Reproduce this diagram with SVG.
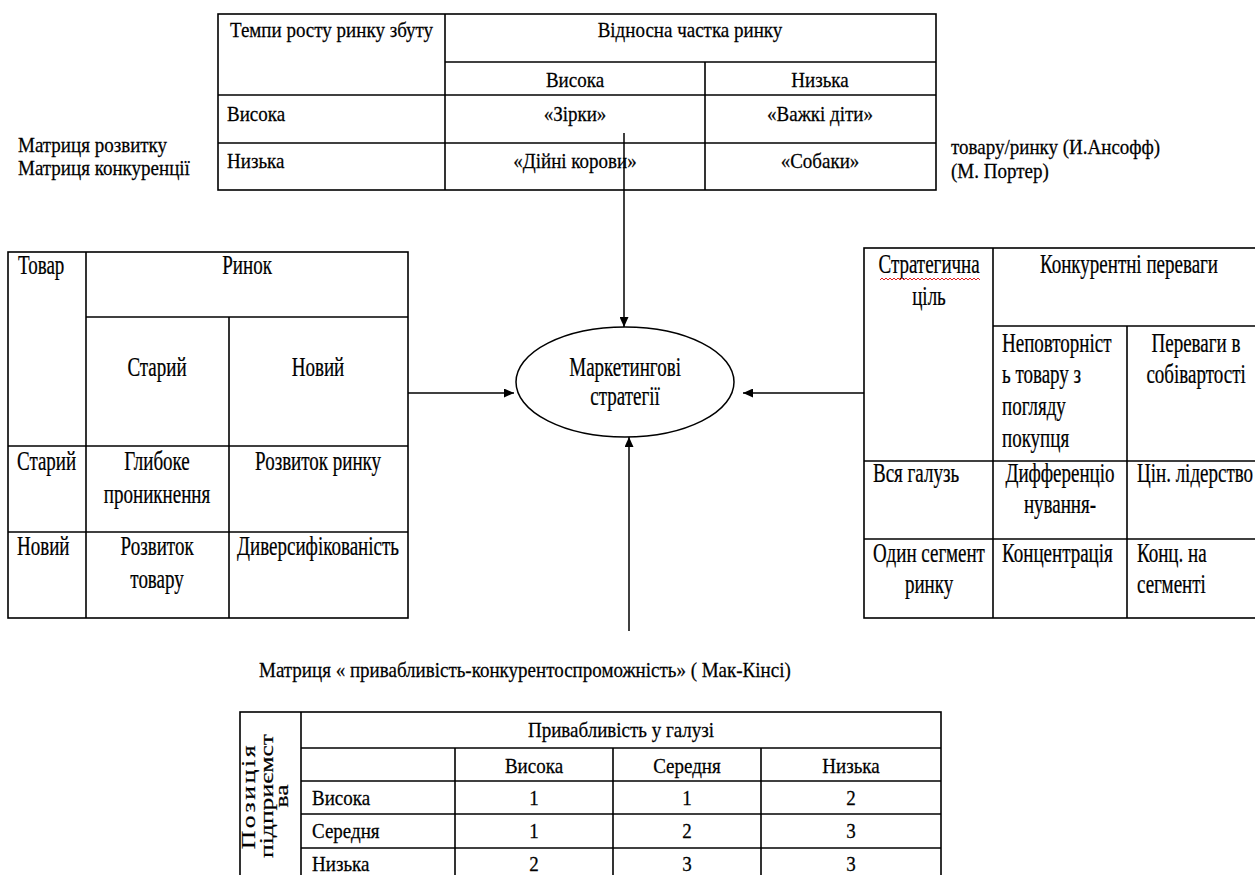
<svg xmlns="http://www.w3.org/2000/svg" width="1255" height="875" viewBox="0 0 1255 875">
<style>
.b{fill:none;stroke:#000;stroke-width:1.6}
.c{fill:none;stroke:#000;stroke-width:1.5}
.t{font-family:"Liberation Serif","Times New Roman",serif;fill:#000;stroke:#000;stroke-width:0.25;transform-box:fill-box}
.tl{font-size:27px;transform:scaleX(0.704)}
.nm{font-size:21px;transform:scaleX(0.905)}
.st{transform-origin:left center}
.md{text-anchor:middle;transform-origin:center}
.rot{font-family:"Liberation Serif","Times New Roman",serif;font-size:19px;fill:#000;stroke:#000;stroke-width:0.2;text-anchor:middle}
.wavy{fill:none;stroke:#e02020;stroke-width:1}
</style>
<defs>
<marker id="ah" viewBox="0 0 10 9" refX="10" refY="4.5" markerWidth="10" markerHeight="9" markerUnits="userSpaceOnUse" orient="auto"><path d="M0,0 L10,4.5 L0,9 z" fill="#000"/></marker>
</defs>
<rect width="1255" height="875" fill="#fff"/>

<g id="bcg-matrix">
<rect class="b" x="218" y="14" width="718" height="176"/>
<line class="b" x1="445" y1="14" x2="445" y2="190"/>
<line class="b" x1="705" y1="62" x2="705" y2="190"/>
<line class="b" x1="445" y1="62" x2="936" y2="62"/>
<line class="b" x1="218" y1="95" x2="936" y2="95"/>
<line class="b" x1="218" y1="143" x2="936" y2="143"/>
<text class="t nm st" x="230" y="37">Темпи росту ринку збуту</text>
<text class="t nm md" x="690" y="37">Відносна частка ринку</text>
<text class="t nm md" x="575" y="87">Висока</text>
<text class="t nm md" x="820" y="87">Низька</text>
<text class="t nm st" x="227" y="121">Висока</text>
<text class="t nm md" x="575" y="121">«Зірки»</text>
<text class="t nm md" x="820" y="121">«Важкі діти»</text>
<text class="t nm st" x="227" y="168">Низька</text>
<text class="t nm md" x="575" y="168">«Дійні корови»</text>
<text class="t nm md" x="820" y="168">«Собаки»</text>
</g>

<g id="labels-left">
<text class="t nm st" x="18" y="152">Матриця розвитку</text>
<text class="t nm st" x="18" y="175">Матриця конкуренції</text>
</g>
<g id="labels-right">
<text class="t nm st" x="951" y="154">товару/ринку (И.Ансофф)</text>
<text class="t nm st" x="951" y="178">(М. Портер)</text>
</g>

<g id="ansoff-matrix">
<rect class="b" x="8" y="252" width="400" height="366"/>
<line class="b" x1="86" y1="252" x2="86" y2="618"/>
<line class="b" x1="229" y1="317" x2="229" y2="618"/>
<line class="b" x1="86" y1="317" x2="408" y2="317"/>
<line class="b" x1="8" y1="446" x2="408" y2="446"/>
<line class="b" x1="8" y1="532" x2="408" y2="532"/>
<text class="t tl st" x="18" y="274">Товар</text>
<text class="t tl md" x="247" y="274">Ринок</text>
<text class="t tl md" x="157" y="376">Старий</text>
<text class="t tl md" x="318" y="376">Новий</text>
<text class="t tl st" x="17" y="470">Старий</text>
<text class="t tl md" x="157" y="470">Глибоке</text>
<text class="t tl md" x="157" y="503">проникнення</text>
<text class="t tl md" x="318" y="470">Розвиток ринку</text>
<text class="t tl st" x="17" y="555">Новий</text>
<text class="t tl md" x="157" y="555">Розвиток</text>
<text class="t tl md" x="157" y="588">товару</text>
<text class="t tl md" x="318" y="555">Диверсифікованість</text>
</g>

<g id="porter-matrix">
<rect class="b" x="864" y="248" width="402" height="370"/>
<line class="b" x1="993" y1="248" x2="993" y2="618"/>
<line class="b" x1="1127" y1="326" x2="1127" y2="618"/>
<line class="b" x1="993" y1="326" x2="1266" y2="326"/>
<line class="b" x1="864" y1="461" x2="1266" y2="461"/>
<line class="b" x1="864" y1="539" x2="1266" y2="539"/>
<text class="t tl md" x="929" y="273">Стратегична</text>
<path class="wavy" d="M880,280 l2,-2 2,2 2,-2 2,2 2,-2 2,2 2,-2 2,2 2,-2 2,2 2,-2 2,2 2,-2 2,2 2,-2 2,2 2,-2 2,2 2,-2 2,2 2,-2 2,2 2,-2 2,2 2,-2 2,2 2,-2 2,2 2,-2 2,2 2,-2 2,2 2,-2 2,2 2,-2 2,2 2,-2 2,2 2,-2 2,2 2,-2 2,2 2,-2 2,2 2,-2 2,2 2,-2 2,2 2,-2 2,2"/>
<text class="t tl md" x="929" y="305">ціль</text>
<text class="t tl md" x="1129" y="273">Конкурентні переваги</text>
<text class="t tl st" x="1002" y="352">Неповторніст</text>
<text class="t tl st" x="1002" y="383">ь товару з</text>
<text class="t tl st" x="1002" y="415">погляду</text>
<text class="t tl st" x="1002" y="447">покупця</text>
<text class="t tl md" x="1196" y="352">Переваги в</text>
<text class="t tl md" x="1196" y="383">собівартості</text>
<text class="t tl st" x="873" y="482">Вся галузь</text>
<text class="t tl md" x="1060" y="482">Дифференціо</text>
<text class="t tl md" x="1060" y="513">нування-</text>
<text class="t tl st" x="1137" y="482">Цін. лідерство</text>
<text class="t tl md" x="929" y="562">Один сегмент</text>
<text class="t tl md" x="929" y="593">ринку</text>
<text class="t tl st" x="1002" y="562">Концентрація</text>
<text class="t tl st" x="1137" y="562">Конц. на</text>
<text class="t tl st" x="1137" y="593">сегменті</text>
</g>

<g id="strategies">
<ellipse class="c" cx="625" cy="382" rx="109" ry="55" fill="#fff"/>
<text class="t tl md" x="625" y="376">Маркетингові</text>
<text class="t tl md" x="625" y="405">стратегії</text>
</g>

<g id="mckinsey-title">
<text class="t nm st" x="259" y="677">Матриця « привабливість-конкурентоспроможність» ( Мак-Кінсі)</text>
</g>

<g id="mckinsey-matrix">
<rect class="b" x="240" y="712" width="701" height="169"/>
<line class="b" x1="301" y1="712" x2="301" y2="881"/>
<line class="b" x1="455" y1="748" x2="455" y2="881"/>
<line class="b" x1="613" y1="748" x2="613" y2="881"/>
<line class="b" x1="761" y1="748" x2="761" y2="881"/>
<line class="b" x1="301" y1="748" x2="941" y2="748"/>
<line class="b" x1="301" y1="781" x2="941" y2="781"/>
<line class="b" x1="301" y1="814" x2="941" y2="814"/>
<line class="b" x1="301" y1="848" x2="941" y2="848"/>
<text class="rot" transform="translate(255,796) rotate(-90) scale(1.35,1)" letter-spacing="2">Позиція</text>
<text class="rot" transform="translate(273,796) rotate(-90) scale(1.35,1)">підприємст</text>
<text class="rot" transform="translate(288,796) rotate(-90) scale(1.35,1)">ва</text>
<text class="t nm md" x="621" y="737">Привабливість у галузі</text>
<text class="t nm md" x="534" y="773">Висока</text>
<text class="t nm md" x="687" y="773">Середня</text>
<text class="t nm md" x="851" y="773">Низька</text>
<text class="t nm st" x="312" y="805">Висока</text>
<text class="t nm st" x="312" y="838">Середня</text>
<text class="t nm st" x="312" y="871">Низька</text>
<text class="t nm md" x="534" y="805">1</text>
<text class="t nm md" x="687" y="805">1</text>
<text class="t nm md" x="851" y="805">2</text>
<text class="t nm md" x="534" y="838">1</text>
<text class="t nm md" x="687" y="838">2</text>
<text class="t nm md" x="851" y="838">3</text>
<text class="t nm md" x="534" y="871">2</text>
<text class="t nm md" x="687" y="871">3</text>
<text class="t nm md" x="851" y="871">3</text>
</g>

<g id="connectors">
<line class="c" x1="624" y1="133" x2="624" y2="327" marker-end="url(#ah)"/>
<line class="c" x1="408" y1="393" x2="514" y2="393" marker-end="url(#ah)"/>
<line class="c" x1="864" y1="393" x2="743" y2="393" marker-end="url(#ah)"/>
<line class="c" x1="629" y1="631" x2="629" y2="437" marker-end="url(#ah)"/>
</g>
</svg>
